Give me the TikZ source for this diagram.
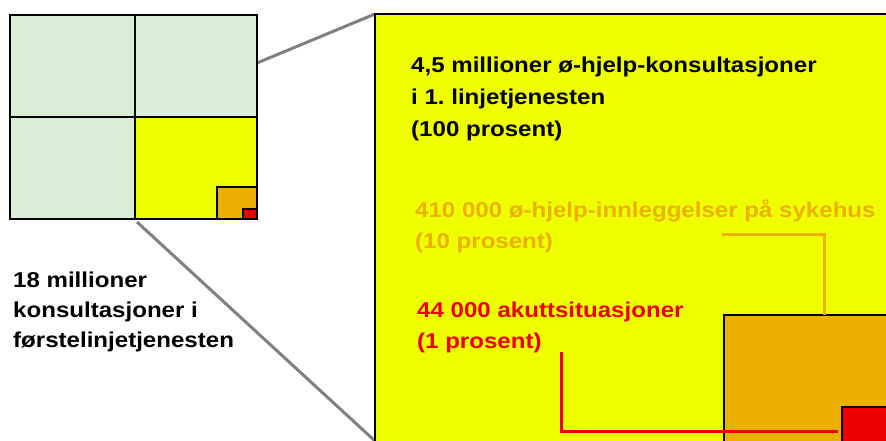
\documentclass[tikz,border=0pt]{standalone}
\usepackage{fontspec}
\newfontfamily\lblfont{Liberation Sans}[FakeStretch=1.12]
\frenchspacing
\definecolor{paleGreen}{HTML}{D9EED5}
\definecolor{hotYellow}{HTML}{F0FF00}
\definecolor{amber}{HTML}{EBB000}
\definecolor{signalRed}{HTML}{EE0000}
\definecolor{zoomGray}{HTML}{808080}
\tikzset{
  cell/.style={draw=black, line width=1.6pt},
  zoomline/.style={draw=zoomGray, line width=3pt},
  lbl/.style={inner sep=0pt, anchor=base west, font=\lblfont\bfseries\fontsize{21.5}{30}\selectfont},
  leader/.style={line width=3pt}
}
\begin{document}
\begin{tikzpicture}[x=1pt, y=-1pt]
  \useasboundingbox (0,0) rectangle (886,441);
  \clip (0,0) rectangle (886,441);

  % corner points of the zoom wedge
  \coordinate (smallTop) at (257,63);
  \coordinate (smallBot) at (137,222);
  \coordinate (bigTop) at (375,14);
  \coordinate (bigBot) at (375,441);
  \draw[zoomline] (smallTop) -- (bigTop);
  \draw[zoomline] (smallBot) -- (bigBot);

  % the whole: four quadrants
  \filldraw[cell, fill=paleGreen] (10,15) rectangle (135,117);
  \filldraw[cell, fill=paleGreen] (135,15) rectangle (257,117);
  \filldraw[cell, fill=paleGreen] (10,117) rectangle (135,219);
  \filldraw[cell, fill=hotYellow] (135,117) rectangle (257,219);
  \filldraw[cell, fill=amber] (217,187) rectangle (257,219);
  \filldraw[cell, fill=signalRed] (243,209) rectangle (257,219);

  % enlarged quadrant
  \filldraw[cell, fill=hotYellow] (bigTop) rectangle (900,460);
  \filldraw[cell, fill=amber] (724,315) rectangle (900,460);
  \filldraw[cell, fill=signalRed] (842,407) rectangle (900,460);

  % labels
  \node[lbl] (tA1) at (411,73) {4,5 millioner ø-hjelp-konsultasjoner};
  \node[lbl] (tA2) at (411,105) {i 1. linjetjenesten};
  \node[lbl] (tA3) at (411,137) {(100 prosent)};

  \node[lbl, text=amber] (tB1) at (415,217) {410 000 ø-hjelp-innleggelser på sykehus};
  \node[lbl, text=amber] (tB2) at (415,248) {(10 prosent)};

  \node[lbl, text=signalRed] (tC1) at (417,317) {44 000 akuttsituasjoner};
  \node[lbl, text=signalRed] (tC2) at (417,348) {(1 prosent)};

  \node[lbl] (tD1) at (13,287) {18 millioner};
  \node[lbl] (tD2) at (13,317) {konsultasjoner i};
  \node[lbl] (tD3) at (13,347) {førstelinjetjenesten};

  % leader lines
  \coordinate (bStart) at (722,234);
  \coordinate (bEnd) at (824,315);
  \draw[leader, amber] (bStart) -| (bEnd);
  \coordinate (cStart) at (561,352);
  \coordinate (cEnd) at (838,431);
  \draw[leader, signalRed] (cStart) |- (cEnd);
\end{tikzpicture}
\end{document}
